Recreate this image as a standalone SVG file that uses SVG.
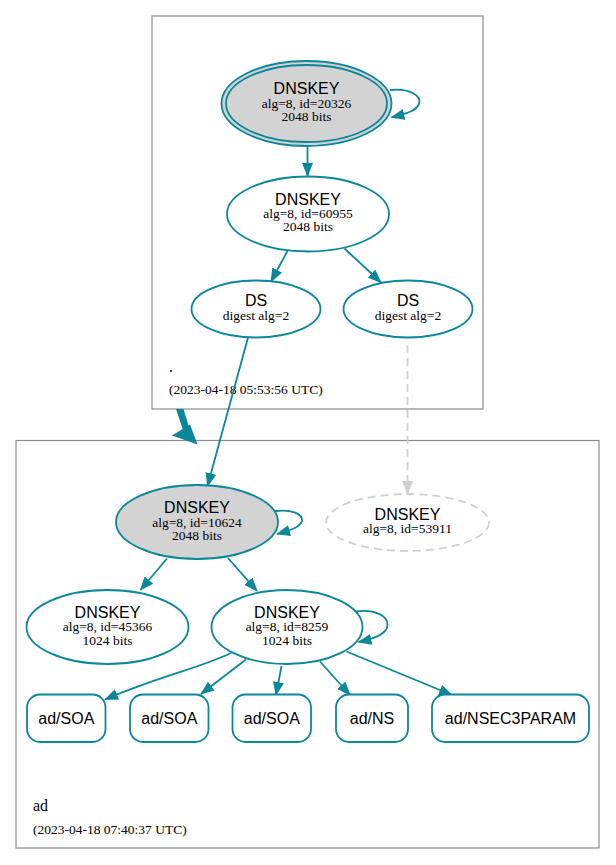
<svg xmlns="http://www.w3.org/2000/svg" width="616" height="865" viewBox="0 0 616 865">
<style>
.cl{fill:#ffffff;stroke:#8c8c8c;stroke-width:1.2}
.n{fill:#ffffff;stroke:#0a879a;stroke-width:1.8}
.g{fill:#d3d3d3;stroke:#0a879a;stroke-width:1.8}
.d{fill:none;stroke:#d0d0d0;stroke-width:1.8;stroke-dasharray:8,5}
.e{fill:none;stroke:#0a879a;stroke-width:1.8;marker-end:url(#a)}
.ed{fill:none;stroke:#d0d0d0;stroke-width:1.8;stroke-dasharray:8,5;marker-end:url(#ag)}
.h{font-family:"Liberation Sans",Arial,sans-serif;font-size:16px;fill:#000;text-anchor:middle}
.s{font-family:"Liberation Serif","Times New Roman",serif;font-size:13.5px;fill:#000;text-anchor:middle}
.l{font-family:"Liberation Serif","Times New Roman",serif;fill:#000}
</style>
<defs>
<marker id="a" markerWidth="14" markerHeight="12" refX="13" refY="6" orient="auto" markerUnits="userSpaceOnUse"><path d="M0,0.5 L14,6 L0,11.5 z" fill="#0a879a"/></marker>
<marker id="ag" markerWidth="14" markerHeight="12" refX="13" refY="6" orient="auto" markerUnits="userSpaceOnUse"><path d="M0,0.5 L14,6 L0,11.5 z" fill="#d0d0d0"/></marker>
</defs>
<rect width="616" height="865" fill="#ffffff"/>
<g id="cluster-root">
<rect class="cl" x="152" y="16" width="331" height="393"/>
<text class="l" x="169" y="372" font-size="16px">.</text>
<text class="l" x="169" y="394" font-size="13.5px">(2023-04-18 05:53:56 UTC)</text>
</g>
<g id="cluster-ad">
<rect class="cl" x="16" y="440.5" width="583" height="407.5"/>
<text class="l" x="33" y="811" font-size="16px">ad</text>
<text class="l" x="33" y="834" font-size="13.5px">(2023-04-18 07:40:37 UTC)</text>
</g>
<g id="connectors">
<path class="e" d="M307.5,147 L307.5,176"/>
<path class="e" d="M390,90 C410,88 422,96 419,104 C416,110 410,113 391.5,117.3"/>
<path class="e" d="M287.5,251 L271,281.5"/>
<path class="e" d="M344.5,248.5 L381,282.5"/>
<path class="e" d="M248,337.5 L207.5,486"/>
<path class="ed" d="M407.5,345 L407.5,494"/>
<polygon points="176,409 183.5,409 189,427 183,430" fill="#0a879a"/>
<polygon points="172,435.5 190,424.5 197.5,444.5" fill="#0a879a"/>
<path class="e" d="M275,511 C292,509 303,514 302,521 C300,527 292,530 277,534"/>
<path class="e" d="M167,558.5 L140.5,590"/>
<path class="e" d="M228,558 L257,591"/>
<path class="e" d="M356,611.5 C375,609 388,616 387.5,625 C387,633 378,638 358.5,642"/>
<path class="e" d="M231,653 C200,668 160,676 105,699.5"/>
<path class="e" d="M246,659.5 L201,694"/>
<path class="e" d="M281.5,666 L276,695"/>
<path class="e" d="M320,661.5 L350,695"/>
<path class="e" d="M346.5,651.5 L452,695"/>
</g>
<g id="dnskey-20326">
<ellipse class="g" cx="306.5" cy="103.5" rx="85" ry="42.5"/>
<ellipse fill="none" stroke="#0a879a" stroke-width="1.8" cx="306.5" cy="103.5" rx="80.5" ry="38.5"/>
<text class="h" x="306.5" y="94">DNSKEY</text>
<text class="s" x="306.5" y="107.5">alg=8, id=20326</text>
<text class="s" x="306.5" y="120.5">2048 bits</text>
</g>
<g id="dnskey-60955">
<ellipse class="n" cx="308" cy="214" rx="81" ry="37.5"/>
<text class="h" x="308" y="204.5">DNSKEY</text>
<text class="s" x="308" y="217.5">alg=8, id=60955</text>
<text class="s" x="308" y="230.5">2048 bits</text>
</g>
<g id="ds-1">
<ellipse class="n" cx="256" cy="309" rx="64.5" ry="28.5"/>
<text class="h" x="256" y="306">DS</text>
<text class="s" x="256" y="319.5">digest alg=2</text>
</g>
<g id="ds-2">
<ellipse class="n" cx="408" cy="309" rx="64.5" ry="28.5"/>
<text class="h" x="408" y="306">DS</text>
<text class="s" x="408" y="319.5">digest alg=2</text>
</g>
<g id="dnskey-10624">
<ellipse class="g" cx="197" cy="522" rx="81" ry="37"/>
<text class="h" x="197" y="513">DNSKEY</text>
<text class="s" x="197" y="527">alg=8, id=10624</text>
<text class="s" x="197" y="540">2048 bits</text>
</g>
<g id="dnskey-53911">
<ellipse class="d" cx="407.5" cy="522.5" rx="81.5" ry="28.5"/>
<text class="h" x="407.5" y="520">DNSKEY</text>
<text class="s" x="407.5" y="532.5">alg=8, id=53911</text>
</g>
<g id="dnskey-45366">
<ellipse class="n" cx="107.5" cy="627" rx="81" ry="37"/>
<text class="h" x="107.5" y="618">DNSKEY</text>
<text class="s" x="107.5" y="631">alg=8, id=45366</text>
<text class="s" x="107.5" y="644.5">1024 bits</text>
</g>
<g id="dnskey-8259">
<ellipse class="n" cx="287" cy="627" rx="75.5" ry="37"/>
<text class="h" x="287" y="618">DNSKEY</text>
<text class="s" x="287" y="631">alg=8, id=8259</text>
<text class="s" x="287" y="644.5">1024 bits</text>
</g>
<g id="rr-soa-1">
<rect class="n" x="27" y="694.5" width="78.5" height="47.5" rx="13"/>
<text class="h" x="66.3" y="724">ad/SOA</text>
</g>
<g id="rr-soa-2">
<rect class="n" x="130" y="694.5" width="78.5" height="47.5" rx="13"/>
<text class="h" x="169.3" y="724">ad/SOA</text>
</g>
<g id="rr-soa-3">
<rect class="n" x="232.5" y="694.5" width="78.5" height="47.5" rx="13"/>
<text class="h" x="271.8" y="724">ad/SOA</text>
</g>
<g id="rr-ns">
<rect class="n" x="336" y="694.5" width="72" height="47.5" rx="13"/>
<text class="h" x="372" y="724">ad/NS</text>
</g>
<g id="rr-nsec3param">
<rect class="n" x="432" y="694.5" width="157" height="47.5" rx="13"/>
<text class="h" x="510.5" y="724">ad/NSEC3PARAM</text>
</g>
</svg>
